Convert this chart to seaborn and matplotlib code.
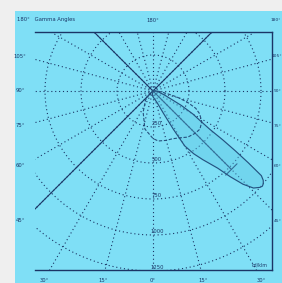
import numpy as np
import pandas as pd
import matplotlib
matplotlib.use("Agg")
import matplotlib.pyplot as plt
import seaborn as sns
from matplotlib.patches import Rectangle

sns.set_theme(style="white")
plt.rcParams['font.family'] = ['DejaVu Sans']

# ---- data ----
ring_values = [250, 500, 750, 1000, 1250]
radial_angles = list(range(-180, 180, 15))
side_labels = ["105°", "90°", "75°", "60°", "45°"]
side_label_angles = [105, 90, 75, 60, 45]
bottom_labels = ["30°", "15°", "0°", "15°", "30°"]
bottom_label_angles = [-30, -15, 0, 15, 30]
top_labels = ["180°", "180°"]

# main (solid, filled) curve: gamma (deg) and intensity (cd/klm)
gamma_a = [-10, 0, 10, 20, 25, 28, 30, 33, 36, 40, 42, 44, 46, 48, 49, 50, 51, 52, 53, 54,
           55, 56, 58, 60, 63, 70, 80, 90]
int_a = [30, 40, 55, 90, 170, 300, 440, 520, 590, 700, 800, 900, 970, 1000, 1007, 1000, 985,
         955, 830, 706, 590, 476, 380, 320, 220, 90, 40, 20]
# secondary (dashed) curve
gamma_b = [-50, -40, -25, -12, 0, 6, 15, 22, 30, 37, 45, 51, 58, 64, 68, 72, 76, 79, 85, 90]
int_b = [30, 80, 162, 270, 330, 349, 355, 358, 375, 401, 415, 420, 399, 360, 320, 250, 170,
         106, 50, 25]
# solid cone lines: angle and length (cd/klm)
cone_angles = [135, -135, -45, 45]
cone_lengths = [3000, 3000, 3000, 770]

line_col = "#1b3566"
curve_col = "#24507e"
cyan = "#7fdff6"

W, H = 282, 283
fig = plt.figure(figsize=(W / 100, H / 100), dpi=100)
fig.patch.set_facecolor("#efefef")
fig.add_artist(Rectangle((15 / W, 0), 1, 1 - 11 / H, transform=fig.transFigure,
                         facecolor=cyan, edgecolor="none", zorder=0))

ax = fig.add_axes([35 / W, 1 - 270 / H, 237 / W, 238 / H])
ax.set_facecolor(cyan)
u = 250 / 36.0
XL = ((35 - 153) * u, (272 - 153) * u)
YL = ((91 - 270) * u, (91 - 32) * u)
ax.set_xticks([]); ax.set_yticks([])
for s in ["top", "bottom", "right"]:
    ax.spines[s].set_color(line_col)
    ax.spines[s].set_linewidth(1.0)
ax.spines["left"].set_visible(False)

dot = (0, (1, 2.5))
# rings
th = np.linspace(0, 2 * np.pi, 400)
for r in ring_values:
    ax.plot(r * np.cos(th), r * np.sin(th), ls=dot, lw=0.8, color=line_col)
    ax.text(28, -r + 25, str(r), fontsize=3.8, color=line_col, ha="center", va="center")

# radial lines
for a in radial_angles:
    g = np.deg2rad(a)
    ax.plot([0, 3000 * np.sin(g)], [0, -3000 * np.cos(g)], ls=dot, lw=0.8, color=line_col)

# solid cone lines
for a, L in zip(cone_angles, cone_lengths):
    g = np.deg2rad(a)
    ax.plot([0, L * np.sin(g)], [0, -L * np.cos(g)], ls="-", lw=0.8, color=line_col)
    if L < 1000:
        ex, ey = L * np.sin(g), -L * np.cos(g)
        px, py = np.cos(g), np.sin(g)
        ax.plot([ex - 55 * px, ex + 55 * px], [ey - 55 * py, ey + 55 * py], ls="-", lw=0.8, color=line_col)

def to_xy(gam, inten):
    g = np.deg2rad(np.asarray(gam, float))
    i = np.asarray(inten, float)
    d = pd.DataFrame({"x": i * np.sin(g), "y": -i * np.cos(g)})
    z = pd.DataFrame({"x": [0.0], "y": [0.0]})
    return pd.concat([z, d, z], ignore_index=True)

da = to_xy(gamma_a, int_a)
db = to_xy(gamma_b, int_b)
ax.fill(da["x"], da["y"], color="#5cc6e4", alpha=0.4, zorder=2)
sns.lineplot(data=da, x="x", y="y", sort=False, estimator=None, ax=ax, color=curve_col, lw=0.8, zorder=3)
sns.lineplot(data=db, x="x", y="y", sort=False, estimator=None, ax=ax, color=curve_col, lw=0.8,
             ls=(0, (3, 1.5)), zorder=3)
ax.set_xlabel(""); ax.set_ylabel("")
ax.set_xlim(*XL)
ax.set_ylim(*YL)

# angle labels
xl = XL[0]
for lab, a in zip(side_labels, side_label_angles):
    g = np.deg2rad(a)
    yi = -abs(xl) * np.cos(g) / np.sin(g) * 1.1
    ax.text(xl - 15 * u, yi, lab, fontsize=3.8, color=line_col, ha="center", va="center", clip_on=False)
    ax.text(XL[1] + 10 * u, yi, lab, fontsize=3.2, color=line_col, ha="right", va="center", clip_on=False,
            transform=ax.transData)
yb = YL[0]
for lab, a in zip(bottom_labels, bottom_label_angles):
    g = np.deg2rad(a)
    ax.text(-yb * np.tan(g) * 1.05, yb - 10 * u, lab, fontsize=3.8, color=line_col, ha="center",
            va="center", clip_on=False)

fig.text(17 / W, 1 - 20 / H, "180°   Gamma Angles", fontsize=3.8, color=line_col, ha="left", va="center")
fig.text(153 / W, 1 - 20 / H, top_labels[0], fontsize=3.8, color=line_col, ha="center", va="center")
fig.text(281.5 / W, 1 - 20 / H, top_labels[1], fontsize=3.2, color=line_col, ha="right", va="center")
fig.text(268 / W, 1 - 265 / H, "cd/klm", fontsize=3.4, color=line_col, ha="right", va="center")

fig.savefig("out.png", dpi=100, facecolor=fig.get_facecolor())
